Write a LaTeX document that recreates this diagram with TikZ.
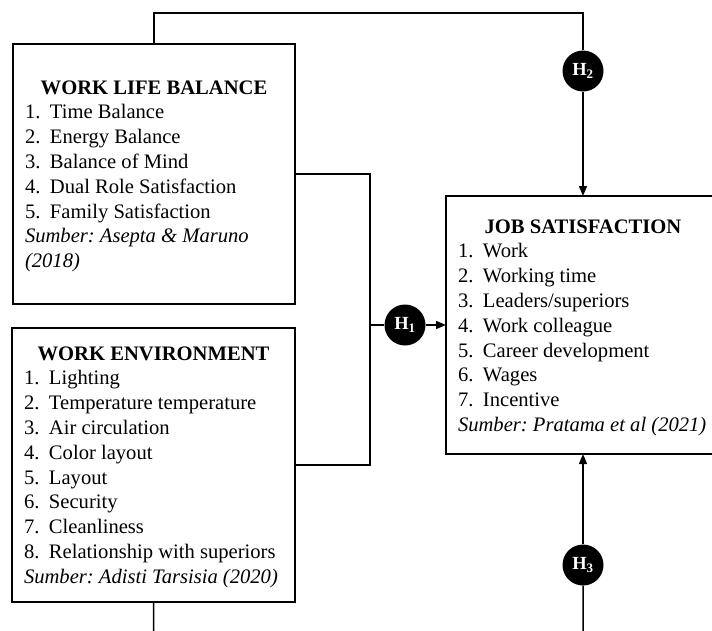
\documentclass[tikz,border=0pt]{standalone}
\usepackage{fontspec}
\setmainfont{Liberation Serif}
\usetikzlibrary{arrows.meta}
\frenchspacing
\newcommand{\itm}[2]{\makebox[25pt][l]{#1.}#2\par}
\newcommand{\ttl}[2]{{\centering\rule{0pt}{#1}\textbf{#2}\par}\raggedright}

\begin{document}
\begin{tikzpicture}[x=1pt,y=-1pt,
		box/.style={draw, line width=1.5pt, inner xsep=12pt, inner ysep=0pt, outer sep=0pt, anchor=north west, font=\fontsize{20.6}{24.8}\selectfont},
		hyp/.style={circle, fill=black, minimum size=41pt, inner sep=0pt, text=white, font=\fontsize{18.5}{22}\selectfont\bfseries},
		con/.style={line width=1.5pt},
		tip/.style={-{Triangle[length=10pt,width=8pt]}}]
			\clip (0,0) rectangle (712,630);
			\node[box] (wlb) at (13,44) {\parbox[c][260pt][t]{258pt}{\ttl{50pt}{WORK LIFE BALANCE}
				\itm{1}{Time Balance}
				\itm{2}{Energy Balance}
				\itm{3}{Balance of Mind}
				\itm{4}{Dual Role Satisfaction}
				\itm{5}{Family Satisfaction}
				\textit{Sumber: Asepta \& Maruno\\(2018)}\par}};
			\node[box] (we) at (12,328) {\parbox[c][274pt][t]{259pt}{\ttl{32pt}{WORK ENVIRONMENT}
				\itm{1}{Lighting}
				\itm{2}{Temperature temperature}
				\itm{3}{Air circulation}
				\itm{4}{Color layout}
				\itm{5}{Layout}
				\itm{6}{Security}
				\itm{7}{Cleanliness}
				\itm{8}{Relationship with superiors}
				\mbox{\textit{Sumber: Adisti Tarsisia (2020)}}\par}};
			\node[box] (js) at (446,196) {\parbox[c][258pt][t]{250pt}{\ttl{37pt}{JOB SATISFACTION}
				\itm{1}{Work}
				\itm{2}{Working time}
				\itm{3}{Leaders/superiors}
				\itm{4}{Work colleague}
				\itm{5}{Career development}
				\itm{6}{Wages}
				\itm{7}{Incentive}
				\mbox{\textit{Sumber: Pratama et al (2021)}}\par}};
			\node[hyp] (h1) at (405,325) {H\textsubscript{1}};
			\node[hyp] (h2) at (583,71) {H\textsubscript{2}};
			\node[hyp] (h3) at (583,565) {H\textsubscript{3}};
			\coordinate (mid) at (370,325);
			\coordinate (low) at (154,660);
			\draw[con] (wlb.north) -- ++(0,-31) -| (h2);
			\draw[con, tip] (h2) -- (js.north);
			\draw[con] (wlb.east) -- ++(75,0) |- (we.east);
			\draw[con] (mid) -- (h1);
			\draw[con, tip] (h1) -- (js.west);
			\draw[con] (we.south) -- (low) -| (h3);
			\draw[con, tip] (h3) -- (js.south);
\end{tikzpicture}
\end{document}
